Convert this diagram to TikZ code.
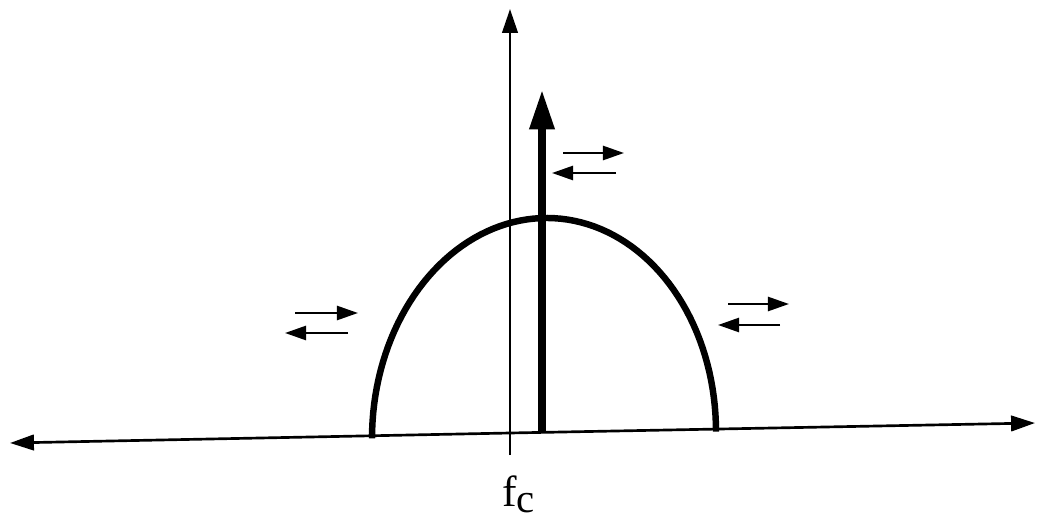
\documentclass[tikz,border=0pt]{standalone}
\usepackage{fontspec}
\setmainfont{Liberation Serif}
\usetikzlibrary{arrows.meta}

\begin{document}
\begin{tikzpicture}[
    x=0.025cm, y=-0.025cm,
    axis/.style={line width=1.9pt, -{Triangle[length=17pt, width=11pt]}},
    carrier/.style={line width=5pt, -{Triangle[length=28pt, width=17pt]}},
    spectrum/.style={line width=4.6pt},
    flow/.style={line width=1.8pt, -{Triangle[length=15pt, width=10pt]}},
]
    \useasboundingbox (0,0) rectangle (1040,519);

    % axes
    \coordinate (origin) at (510,433);
    \coordinate (xleft) at (10,443);
    \coordinate (xright) at (1035,423);
    \coordinate (ytop) at (510,9);
    \coordinate (ybottom) at (510,455);
    \draw[axis] (origin) -- (xleft);
    \draw[axis] (origin) -- (xright);
    \draw[axis] (ybottom) -- (ytop);

    % spectrum and carrier
    \draw[spectrum] plot[domain=180:360, samples=80]
        ({544+172*cos(\x)}, {435+217*sin(\x)-3.4*cos(\x)});
    \coordinate (cbase) at (542,433);
    \coordinate (ctip) at (542,90);
    \draw[carrier] (cbase) -- (ctip);

    % arrow pairs
    \coordinate (la1) at (295,313); \coordinate (lb1) at (358,313);
    \coordinate (la2) at (348,333); \coordinate (lb2) at (285,333);
    \coordinate (ca1) at (563,153); \coordinate (cb1) at (624,153);
    \coordinate (ca2) at (616,173); \coordinate (cb2) at (552,173);
    \coordinate (ra1) at (728,304); \coordinate (rb1) at (789,304);
    \coordinate (ra2) at (780,325); \coordinate (rb2) at (718,325);
    \foreach \p in {l,c,r} {
        \draw[flow] (\p a1) -- (\p b1);
        \draw[flow] (\p a2) -- (\p b2);
    }

    \node[anchor=base west, inner sep=0pt, font=\fontsize{31}{31}\selectfont] (fc) at (502,506)
        {f\raisebox{-4.5pt}{\fontsize{29}{29}\selectfont c}};
\end{tikzpicture}
\end{document}
